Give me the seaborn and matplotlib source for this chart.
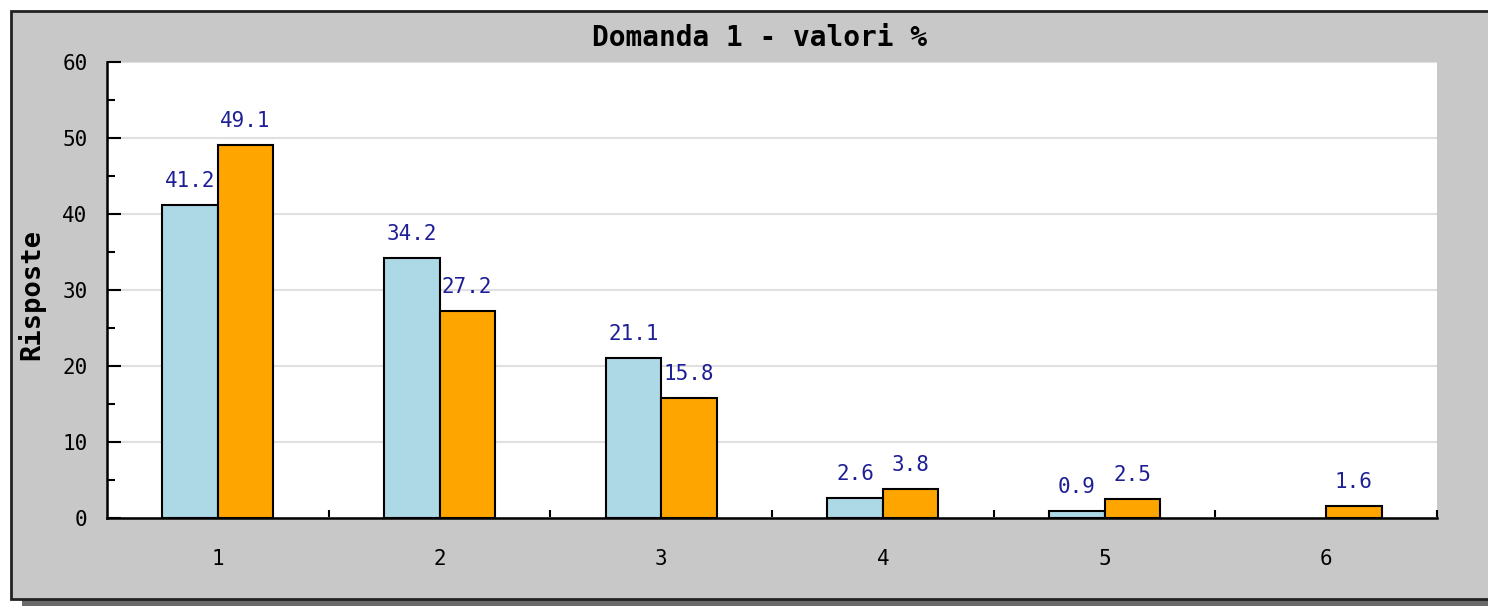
import matplotlib
matplotlib.use("Agg")
import matplotlib.pyplot as plt
from matplotlib.patches import Rectangle
from matplotlib.ticker import MultipleLocator, FixedLocator
import seaborn as sns
import pandas as pd

categories = ["1", "2", "3", "4", "5", "6"]
series_a = [41.2, 34.2, 21.1, 2.6, 0.9, 0.0]
series_b = [49.1, 27.2, 15.8, 3.8, 2.5, 1.6]
series_names = ["A", "B"]
title = "Domanda 1 - valori %"
ylabel = "Risposte"

sns.set_style("white")
plt.rcParams["font.family"] = ["DejaVu Sans Mono", "DejaVu Sans"]
plt.rcParams["text.color"] = "black"
plt.rcParams["xtick.color"] = "black"
plt.rcParams["ytick.color"] = "black"

df = pd.DataFrame({
    "cat": categories * 2,
    "val": series_a + series_b,
    "series": [series_names[0]] * len(categories) + [series_names[1]] * len(categories),
})

W, H = 1488, 606
fig = plt.figure(figsize=(W / 100, H / 100), dpi=100)
fig.patch.set_facecolor("white")

# frame + shadow
fig.patches.append(Rectangle((22 / W, 0), 1.0, 7 / H, transform=fig.transFigure,
                             facecolor="#6a6a6a", edgecolor="none", zorder=-3))
fig.patches.append(Rectangle((11 / W, 7 / H), 1.0, (595 - 7) / H, transform=fig.transFigure,
                             facecolor="#c8c8c8", edgecolor="#222222", linewidth=2, zorder=-2))

ax = fig.add_axes([107 / W, 1 - 518 / H, (1437 - 107) / W, (518 - 62) / H])
ax.set_facecolor("white")

sns.barplot(data=df, x="cat", y="val", hue="series", order=categories,
            palette=["#add8e6", "#ffa500"], width=0.5, gap=0, saturation=1,
            edgecolor="black", linewidth=1.5, legend=False, ax=ax, zorder=3)

for bar in ax.patches:
    h = bar.get_height()
    if h > 0:
        ax.annotate(f"{h:.1f}", (bar.get_x() + bar.get_width() / 2, h),
                    xytext=(0, 10), textcoords="offset points",
                    ha="center", va="bottom", fontsize=15, color="#1e1e96", zorder=5)
    else:
        bar.set_visible(False)

ax.set_xlim(-0.5, 5.5)
ax.set_ylim(0, 60)
ax.yaxis.set_major_locator(MultipleLocator(10))
ax.yaxis.set_minor_locator(MultipleLocator(5))
ax.xaxis.set_minor_locator(FixedLocator([0.5, 1.5, 2.5, 3.5, 4.5, 5.5]))
ax.grid(axis="y", which="major", color="#e0e0e0", linewidth=1.5, zorder=0)
ax.set_axisbelow(True)

ax.tick_params(axis="y", which="both", left=True)
ax.tick_params(axis="x", which="both", bottom=True)
ax.tick_params(axis="y", which="major", direction="in", length=10, width=1.5,
               labelsize=15, pad=14, color="black", labelcolor="black")
ax.tick_params(axis="y", which="minor", direction="in", length=6, width=1.5, color="black")
ax.tick_params(axis="x", which="major", length=0, labelsize=15, pad=22, labelcolor="black")
ax.tick_params(axis="x", which="minor", direction="in", length=6, width=1.5, color="black")

for s in ["top", "right"]:
    ax.spines[s].set_visible(False)
for s in ["left", "bottom"]:
    ax.spines[s].set_color("black")
    ax.spines[s].set_linewidth(1.8)

ax.set_xlabel("")
ax.set_ylabel("")
fig.text(31 / W, 1 - 294 / H, ylabel, rotation=90, ha="center", va="center",
         fontsize=19.5, fontweight="bold", color="black")
fig.text(759 / W, 1 - 38 / H, title, ha="center", va="center",
         fontsize=20, fontweight="bold", color="black")

fig.savefig("out.png", dpi=100, facecolor=fig.get_facecolor())
